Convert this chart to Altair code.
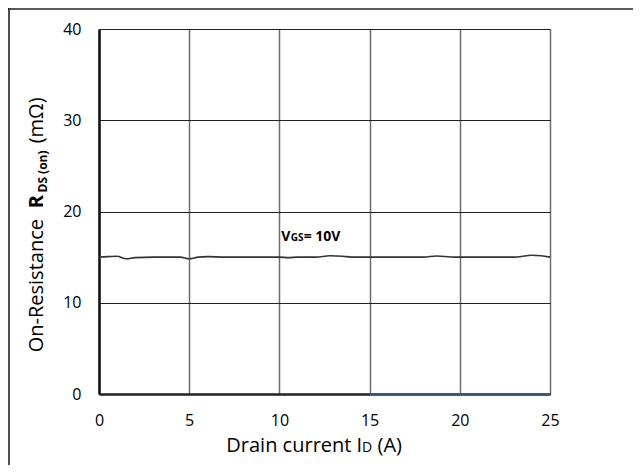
import altair as alt
import pandas as pd

# ---- data ----
current = [0, 0.5, 1, 1.5, 2, 3, 4, 4.5, 5, 5.5, 6, 7, 8, 9, 10, 10.5, 11, 12,
           12.8, 13.5, 14, 15, 16, 17, 18, 18.7, 19.5, 20, 21, 22, 23, 24, 24.5, 25]
rds = [15.0, 15.05, 15.1, 14.82, 14.95, 15.0, 15.0, 15.0, 14.82, 15.0, 15.05, 15.0,
       15.0, 15.0, 15.0, 14.95, 15.0, 15.0, 15.15, 15.1, 15.0, 15.0, 15.0, 15.0,
       15.0, 15.12, 15.02, 15.0, 15.0, 15.0, 15.0, 15.2, 15.15, 15.0]

zero_current = [15, 25]
zero_rds = [0, 0]

x_ticks = [0, 5, 10, 15, 20, 25]
y_ticks = [0, 10, 20, 30, 40]

label_parts = ["V", "GS", "= 10V"]
label_pos = [10.1, 16.8]

ytitle_parts = ["On-Resistance", "R", "DS (on)", "(mΩ)"]
xtitle_parts = ["Drain current I", "D", "(A)"]

FONT = "Open Sans"
W, H = 451, 365

df = pd.DataFrame({"current": current, "rds": rds})
df0 = pd.DataFrame({"current": zero_current, "rds": zero_rds})

xs = alt.Scale(domain=[0, 25], nice=False, zero=False)
ys = alt.Scale(domain=[0, 40], nice=False)

main = alt.Chart(df).mark_line(color="#333333", strokeWidth=1.6, interpolate="monotone").encode(
    x=alt.X("current:Q", scale=xs,
            axis=alt.Axis(values=x_ticks, title=None, grid=True, gridColor="#6e6e6e",
                          gridWidth=1.5, domainColor="#222222", domainWidth=2.5,
                          ticks=False, tickSize=0, labelPadding=18, labelFontSize=16,
                          labelColor="#000000", labelFont=FONT, labelFlush=False)),
    y=alt.Y("rds:Q", scale=ys,
            axis=alt.Axis(values=y_ticks, title=None, grid=True, gridColor="#222222",
                          gridWidth=1.2, domainColor="#111111", domainWidth=2.5,
                          ticks=False, tickSize=0, labelPadding=18, labelFontSize=16,
                          labelColor="#000000", labelFont=FONT, labelFlush=False)),
)

zero_line = alt.Chart(df0).mark_line(color="#34587f", strokeWidth=2.2).encode(
    x=alt.X("current:Q", scale=xs), y=alt.Y("rds:Q", scale=ys)
)

def one(text):
    return pd.DataFrame({"t": [text]})

# in-plot label V_GS = 10V (small-caps subscript)
lab_v = alt.Chart(one(label_parts[0])).mark_text(
    font=FONT, fontSize=14, fontWeight="bold", align="left", baseline="alphabetic", color="#000"
).encode(x=alt.datum(label_pos[0]), y=alt.datum(label_pos[1]), text="t:N")
lab_gs = alt.Chart(one(label_parts[1])).mark_text(
    font=FONT, fontSize=10, fontWeight="bold", align="left", baseline="alphabetic", color="#000", dx=9.5
).encode(x=alt.datum(label_pos[0]), y=alt.datum(label_pos[1]), text="t:N")
lab_eq = alt.Chart(one(label_parts[2])).mark_text(
    font=FONT, fontSize=14, fontWeight="bold", align="left", baseline="alphabetic", color="#000", dx=22.5
).encode(x=alt.datum(label_pos[0]), y=alt.datum(label_pos[1]), text="t:N")

# y title pieces (rotated)
def ytext(text, size, weight, xpix, ypix):
    return alt.Chart(one(text)).mark_text(
        font=FONT, fontSize=size, fontWeight=weight, angle=270, align="left",
        baseline="alphabetic", color="#000"
    ).encode(x=alt.value(xpix), y=alt.value(ypix), text="t:N")

yt1 = ytext(ytitle_parts[0], 20, "normal", -56.5, 323.3)
yt2 = ytext(ytitle_parts[1], 20, "bold", -56.5, 179.3)
yt3 = ytext(ytitle_parts[2], 12, "bold", -52.5, 163.5)
yt4 = ytext(ytitle_parts[3], 20, "normal", -56.5, 114.3)

# x title pieces
def xtext(text, size, xpix, ypix):
    return alt.Chart(one(text)).mark_text(
        font=FONT, fontSize=size, align="left", baseline="alphabetic", color="#000"
    ).encode(x=alt.value(xpix), y=alt.value(ypix), text="t:N")

xt1 = xtext(xtitle_parts[0], 20, 127.3, 423)
xt2 = xtext(xtitle_parts[1], 14, 263.0, 423)
xt3 = xtext(xtitle_parts[2], 20, 278.5, 423)

# outer frame (top and left edges)
frame_top = alt.Chart(one("f")).mark_rule(color="#222222", strokeWidth=1.6).encode(
    x=alt.value(-91), x2=alt.value(W + 83), y=alt.value(-20)
)
frame_left = alt.Chart(one("f")).mark_rule(color="#222222", strokeWidth=1.6).encode(
    x=alt.value(-90), y=alt.value(-21), y2=alt.value(H + 71)
)

chart = alt.layer(
    main, zero_line, lab_v, lab_gs, lab_eq, yt1, yt2, yt3, yt4, xt1, xt2, xt3,
    frame_top, frame_left
).properties(
    width=W, height=H,
    padding={"left": 91, "top": 21, "right": 83, "bottom": 71},
    autosize=alt.AutoSizeParams(type="none"),
    background="white",
).configure_view(
    stroke="#3a3a3a", strokeWidth=2
).configure(font=FONT)

chart.save("out.html", embed_options={"renderer": "svg", "actions": False})
